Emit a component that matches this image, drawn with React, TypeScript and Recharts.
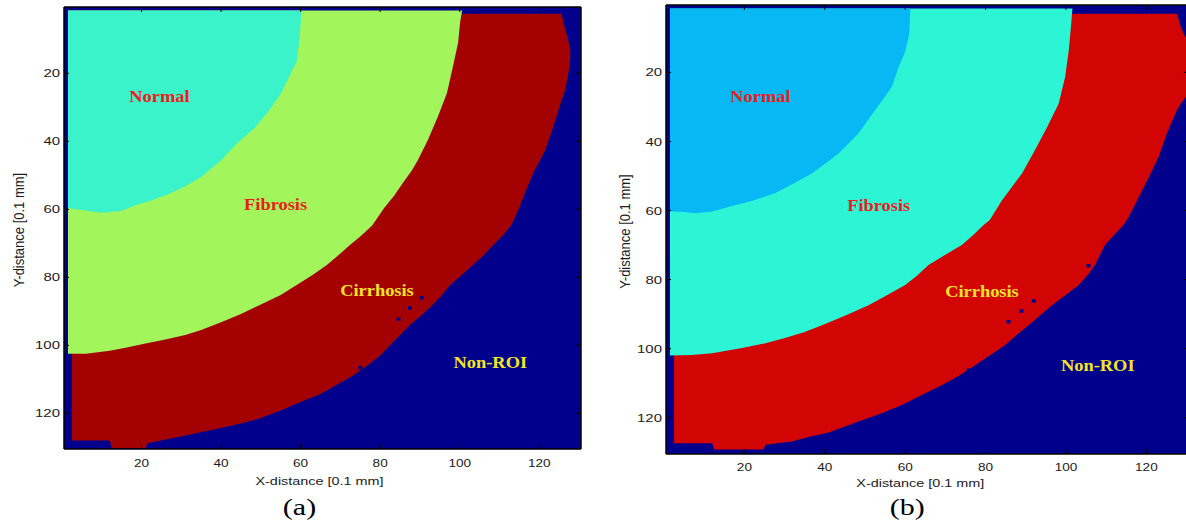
import React from 'react';
import { ComposedChart, Area, Scatter, XAxis, YAxis } from 'recharts';

const TICKS = [20, 40, 60, 80, 100, 120];
const DOMAIN: [number, number] = [0.5, 130.5];

// whole image = Non-ROI background
const FULL = [[0.5, 0.5, 130.5], [130.5, 0.5, 130.5]];

// region outlines, rows [x, top, bottom] in image units (0.1 mm)
const A_NORMAL = [
    [1.5, 1.5, 59.6], [5, 1.5, 60.2], [10, 1.5, 61], [15, 1.5, 60.4], [19, 1.5, 58.6],
    [23, 1.5, 57.2], [27, 1.5, 55.4], [31, 1.5, 53.2], [35, 1.5, 50.5], [40, 1.5, 45.6],
    [44, 1.5, 40.6], [48.5, 1.5, 36], [52, 1.5, 31], [55, 1.5, 26], [57.3, 1.5, 20.5],
    [59, 1.5, 16.5], [59.8, 1.5, 9], [60.2, 1.5, 1.5],
];
const A_FIBROSIS = [
    [1.5, 1.5, 102.5], [6, 1.5, 102.5], [12, 1.5, 101.6], [16, 1.5, 100.7], [21, 1.5, 99.5],
    [26, 1.5, 98.3], [31, 1.5, 97], [35, 1.5, 95.5], [40, 1.5, 93.2], [45, 1.5, 90.8],
    [50, 1.5, 88], [55, 1.5, 85.2], [59, 1.5, 82.3], [63, 1.5, 79.3], [66.6, 1.5, 76.4],
    [70, 1.5, 73], [72.4, 1.5, 70.5], [75, 1.5, 68], [78, 1.5, 64.8], [81, 1.5, 59.6],
    [83.5, 1.5, 56], [85.7, 1.5, 52.3], [88, 1.5, 48.5], [89.5, 1.5, 45.5], [92, 1.5, 39.6],
    [94.5, 1.5, 32.8], [96.8, 1.5, 25.8], [98.3, 1.5, 18], [99.6, 1.5, 11], [100.1, 1.5, 5],
    [100.6, 1.5, 1.5],
];
const A_CIRRHOSIS = [
    [2.5, 2.5, 128], [12, 2.5, 128], [12.5, 2.5, 130.2], [21, 2.5, 130.2], [21.5, 2.5, 128.8],
    [28, 2.5, 127.3], [34, 2.5, 125.8], [40, 2.5, 124.3], [45, 2.5, 123], [50, 2.5, 121.4],
    [55, 2.5, 119.2], [60, 2.5, 116.7], [65, 2.5, 114.3], [69, 2.5, 111.7], [73, 2.5, 109],
    [77, 2.5, 105.8], [80, 2.5, 103], [82.5, 2.5, 100], [85, 2.5, 97], [87.5, 2.5, 94],
    [90.5, 2.5, 91], [93.3, 2.5, 88], [95.5, 2.5, 85.3], [97.6, 2.5, 82.3], [100.5, 2.5, 79.3],
    [103.3, 2.5, 76.4], [106, 2.5, 73.5], [108.4, 2.5, 70.5], [111, 2.5, 67.5], [113, 2.5, 64.6],
    [114.8, 2.5, 60], [116.4, 2.5, 55.2], [118.5, 2.5, 49.3], [121.5, 2.5, 42.6], [123.5, 2.5, 35.8],
    [125.6, 2.5, 28], [126.5, 6.8, 25], [127.2, 10, 21], [127.8, 13, 16],
];
const A_SPECKS = [[90.4, 86], [87.5, 89], [84.6, 92.3], [104.3, 76.1], [75, 106.6]];

const B_NORMAL = [
    [1.5, 1.5, 60.2], [5, 1.5, 60.4], [7.7, 1.5, 60.8], [12, 1.5, 60.3], [16, 1.5, 59],
    [22, 1.5, 57.2], [27.6, 1.5, 55], [32, 1.5, 52.3], [36.8, 1.5, 49.3], [40, 1.5, 46.5],
    [43.5, 1.5, 43.4], [48.4, 1.5, 37.6], [52.5, 1.5, 31], [55, 1.5, 27], [56.7, 1.5, 24.2],
    [58.4, 1.5, 18.4], [60, 1.5, 14], [61, 1.5, 9], [61.3, 1.5, 1.5],
];
const B_FIBROSIS = [
    [1.5, 1.5, 102], [7, 1.5, 101.8], [12, 1.5, 101.3], [19.4, 1.5, 99.8], [25, 1.5, 98.5],
    [30.1, 1.5, 96.9], [35, 1.5, 95.2], [39.3, 1.5, 93.2], [45, 1.5, 90.5], [50.9, 1.5, 87.4],
    [55, 1.5, 84.8], [60, 1.5, 81.6], [63, 1.5, 78.8], [65.8, 1.5, 75.8], [70, 1.5, 72.8],
    [74.1, 1.5, 70], [77, 1.5, 67], [79.5, 1.5, 64.2], [81, 1.5, 62.8], [84.1, 1.5, 57],
    [89.1, 1.5, 49.2], [92.3, 1.5, 42.5], [95.3, 1.5, 35.9], [98.2, 1.5, 29], [99.8, 1.5, 21.3],
    [100.7, 1.5, 13.6], [101.3, 1.5, 6], [101.6, 1.5, 1.5],
];
const B_CIRRHOSIS = [
    [2.5, 3, 127.4], [12, 3, 127.4], [12.5, 3, 129.2], [24.8, 3, 129.2], [25.2, 3, 127.8],
    [31.8, 3, 126.9], [36, 3, 125.6], [41, 3, 124.3], [48.4, 3, 121.1], [54, 3, 118.8],
    [59.2, 3, 116.3], [64, 3, 113.5], [69.2, 3, 110.5], [73.5, 3, 107.8], [77.4, 3, 104.8],
    [81, 3, 102], [84.8, 3, 99], [87.8, 3, 96], [90.7, 3, 93.2], [93.6, 3, 90.3],
    [96.5, 3, 87.4], [100, 3, 84.4], [103.2, 3, 81.6], [105.5, 3, 78.5], [107.2, 3, 75.8],
    [109.7, 3, 70], [112, 3, 67], [114.3, 3, 64.2], [115.6, 3, 61.9], [118.1, 3, 56.1],
    [120.6, 3, 50.4], [123, 3, 44.6], [125.1, 3, 37.6], [127.6, 3, 31], [128.6, 7, 29],
    [130.5, 12, 26],
];
const B_SPECKS = [[92, 86.2], [88.9, 89.1], [85.7, 92.2], [105.6, 76], [75.8, 106.2]];

const REGION_NAMES = ['Normal', 'Fibrosis', 'Cirrhosis', 'Non-ROI'];
const A_NAME_POS = [[24.5, 26.8], [53.7, 58.7], [79.2, 84], [107.7, 105.1]];
const B_NAME_POS = [[24, 27.1], [53.4, 58.6], [79.1, 83.4], [107.9, 104.8]];

const NAME_COLORS = ['#ec1c1c', '#ec1c1c', '#f2e426', '#f2e426'];
const SANS = "'Liberation Sans', Arial, sans-serif";
const SERIF = "'Liberation Serif', 'Times New Roman', serif";
const FRAME = { stroke: '#000', strokeWidth: 1.5 };

const rows = (pts: number[][]) => pts.map(([x, a, b]) => ({ x, v: [a, b] }));
const points = (pts: number[][]) => pts.map(([x, y]) => ({ x, y }));
const names = (pos: number[][]) => pos.map(([x, y], i) => ({ x, y, name: REGION_NAMES[i], i }));

const PANELS = [
    {
        key: 'a', tag: '(a)', left: 0,
        margin: { top: 6, right: 18, left: 0, bottom: 0 }, yAxisWidth: 64, xAxisHeight: 81,
        normal: A_NORMAL, fibrosis: A_FIBROSIS, cirrhosis: A_CIRRHOSIS, specks: A_SPECKS, namePos: A_NAME_POS,
        colors: { normal: '#3af3cb', fibrosis: '#a2f55b', cirrhosis: '#a40202', nonRoi: '#00008c' },
        cell: [3.98, 3.4], tickDy: 18, titleDx: -3, titleDy: 36, tagDx: -23, tagDy: 66, yTitleX: 19,
    },
    {
        key: 'b', tag: '(b)', left: 600,
        margin: { top: 4, right: 10.4, left: 0, bottom: 0 }, yAxisWidth: 66, xAxisHeight: 76,
        normal: B_NORMAL, fibrosis: B_FIBROSIS, cirrhosis: B_CIRRHOSIS, specks: B_SPECKS, namePos: B_NAME_POS,
        colors: { normal: '#08b8f4', fibrosis: '#2cf5d6', cirrhosis: '#d20404', nonRoi: '#00008c' },
        cell: [4.02, 3.46], tickDy: 17, titleDx: -7, titleDy: 33, tagDx: -20, tagDy: 61, yTitleX: 25,
    },
];

// the same four axes in both layers; `show` switches ticks, frame and titles on for the overlay
const axes = (p: any, show: boolean, parts: any) => [
    <XAxis key="x" xAxisId="x" dataKey="x" type="number" domain={DOMAIN} ticks={TICKS} interval={0}
        allowDataOverflow height={p.xAxisHeight} tickSize={0} tickMargin={0} tickLine={false}
        axisLine={show ? FRAME : false} tick={show ? parts.bottomTick : false} label={show ? parts.xTitle : undefined} />,
    <XAxis key="t" xAxisId="t" orientation="top" dataKey="x" type="number" domain={DOMAIN} ticks={TICKS} interval={0}
        allowDataOverflow height={1} tickSize={0} tickMargin={0} tickLine={false}
        axisLine={show ? FRAME : false} tick={show ? parts.topTick : false} />,
    <YAxis key="y" yAxisId="y" dataKey="y" type="number" domain={DOMAIN} ticks={TICKS} interval={0} reversed
        allowDataOverflow width={p.yAxisWidth} tickSize={0} tickMargin={0} tickLine={false}
        axisLine={show ? FRAME : false} tick={show ? parts.leftTick : false} label={show ? parts.yTitle : undefined} />,
    <YAxis key="r" yAxisId="r" orientation="right" dataKey="y" type="number" domain={DOMAIN} ticks={TICKS} interval={0}
        reversed allowDataOverflow width={1} tickSize={0} tickMargin={0} tickLine={false}
        axisLine={show ? FRAME : false} tick={show ? parts.rightTick : false} />,
];

const Panel = ({ p }: any) => {
    const parts = {
        bottomTick: (t: any) => (
            <g>
                <line x1={t.x} x2={t.x} y1={t.y} y2={t.y - 5} stroke="#000" />
                <text transform={`translate(${t.x},${t.y + p.tickDy}) scale(1.32,1)`} textAnchor="middle"
                    fontSize={10.3} fontFamily={SANS} fill="#1c1c1c">{t.payload.value}</text>
            </g>
        ),
        leftTick: (t: any) => (
            <g>
                <line x1={t.x} x2={t.x + 5} y1={t.y} y2={t.y} stroke="#000" />
                <text transform={`translate(${t.x - 4},${t.y}) scale(1.3,1)`} textAnchor="end" dy="0.36em"
                    fontSize={11.5} fontFamily={SANS} fill="#1c1c1c">{t.payload.value}</text>
            </g>
        ),
        topTick: (t: any) => <line x1={t.x} x2={t.x} y1={t.y} y2={t.y + 5} stroke="#000" />,
        rightTick: (t: any) => <line x1={t.x} x2={t.x - 5} y1={t.y} y2={t.y} stroke="#000" />,
        xTitle: (lp: any) => {
            const vb = lp.viewBox;
            const cx = vb.x + vb.width / 2;
            return (
                <g>
                    <text transform={`translate(${cx + p.titleDx},${vb.y + p.titleDy}) scale(1.4,1)`} textAnchor="middle"
                        fontSize={10.3} fontFamily={SANS} fill="#1c1c1c">X-distance [0.1 mm]</text>
                    <text transform={`translate(${cx + p.tagDx},${vb.y + p.tagDy}) scale(1.25,1)`} textAnchor="middle"
                        fontSize={24} fontFamily={SERIF} fill="#000">{p.tag}</text>
                </g>
            );
        },
        yTitle: (lp: any) => {
            const vb = lp.viewBox;
            return (
                <text transform={`translate(${vb.x + p.yTitleX},${vb.y + vb.height / 2 + 2}) scale(1.13,1) rotate(-90)`}
                    textAnchor="middle" dy="0.35em" fontSize={13} fontFamily={SANS} fill="#1c1c1c">
                    Y-distance [0.1 mm]
                </text>
            );
        },
    };

    const speck = (s: any) => (
        <rect x={s.cx - p.cell[0] / 2} y={s.cy - p.cell[1] / 2} width={p.cell[0]} height={p.cell[1]} fill={p.colors.nonRoi} />
    );
    const nameTag = (s: any) => (
        <text transform={`translate(${s.cx},${s.cy}) scale(1.15,1)`} dy="0.33em" textAnchor="middle"
            fontSize={16} fontWeight="bold" fontFamily={SERIF} fill={NAME_COLORS[s.payload.i]}>
            {s.payload.name}
        </text>
    );

    return (
        <div style={{ position: 'absolute', left: p.left, top: 0, width: 600, height: 530 }}>
            {/* layer 1: the segmented regions */}
            <div style={{ position: 'absolute', left: 0, top: 0 }}>
                <ComposedChart width={600} height={530} margin={p.margin}>
                    {axes(p, false, parts)}
                    <Area xAxisId="x" yAxisId="y" data={rows(FULL)} dataKey="v" type="linear" stroke="none"
                        fill={p.colors.nonRoi} fillOpacity={1} dot={false} activeDot={false} isAnimationActive={false} />
                    <Area xAxisId="x" yAxisId="y" data={rows(p.cirrhosis)} dataKey="v" type="linear" stroke="none"
                        fill={p.colors.cirrhosis} fillOpacity={1} dot={false} activeDot={false} isAnimationActive={false} />
                    <Area xAxisId="x" yAxisId="y" data={rows(p.fibrosis)} dataKey="v" type="linear" stroke="none"
                        fill={p.colors.fibrosis} fillOpacity={1} dot={false} activeDot={false} isAnimationActive={false} />
                    <Area xAxisId="x" yAxisId="y" data={rows(p.normal)} dataKey="v" type="linear" stroke="none"
                        fill={p.colors.normal} fillOpacity={1} dot={false} activeDot={false} isAnimationActive={false} />
                    <Scatter xAxisId="x" yAxisId="y" data={points(p.specks)} shape={speck} isAnimationActive={false} />
                </ComposedChart>
            </div>
            {/* layer 2: frame, inward ticks, titles and region names on top */}
            <div style={{ position: 'absolute', left: 0, top: 0, pointerEvents: 'none' }}>
                <ComposedChart width={600} height={530} margin={p.margin}>
                    {axes(p, true, parts)}
                    <Scatter xAxisId="x" yAxisId="y" data={names(p.namePos)} shape={nameTag} isAnimationActive={false} />
                </ComposedChart>
            </div>
        </div>
    );
};

export default function App() {
    return (
        <div style={{ position: 'absolute', left: 0, top: 0, width: 1186, height: 530, overflow: 'hidden', background: '#fff' }}>
            {PANELS.map((p) => <Panel key={p.key} p={p} />)}
        </div>
    );
}
